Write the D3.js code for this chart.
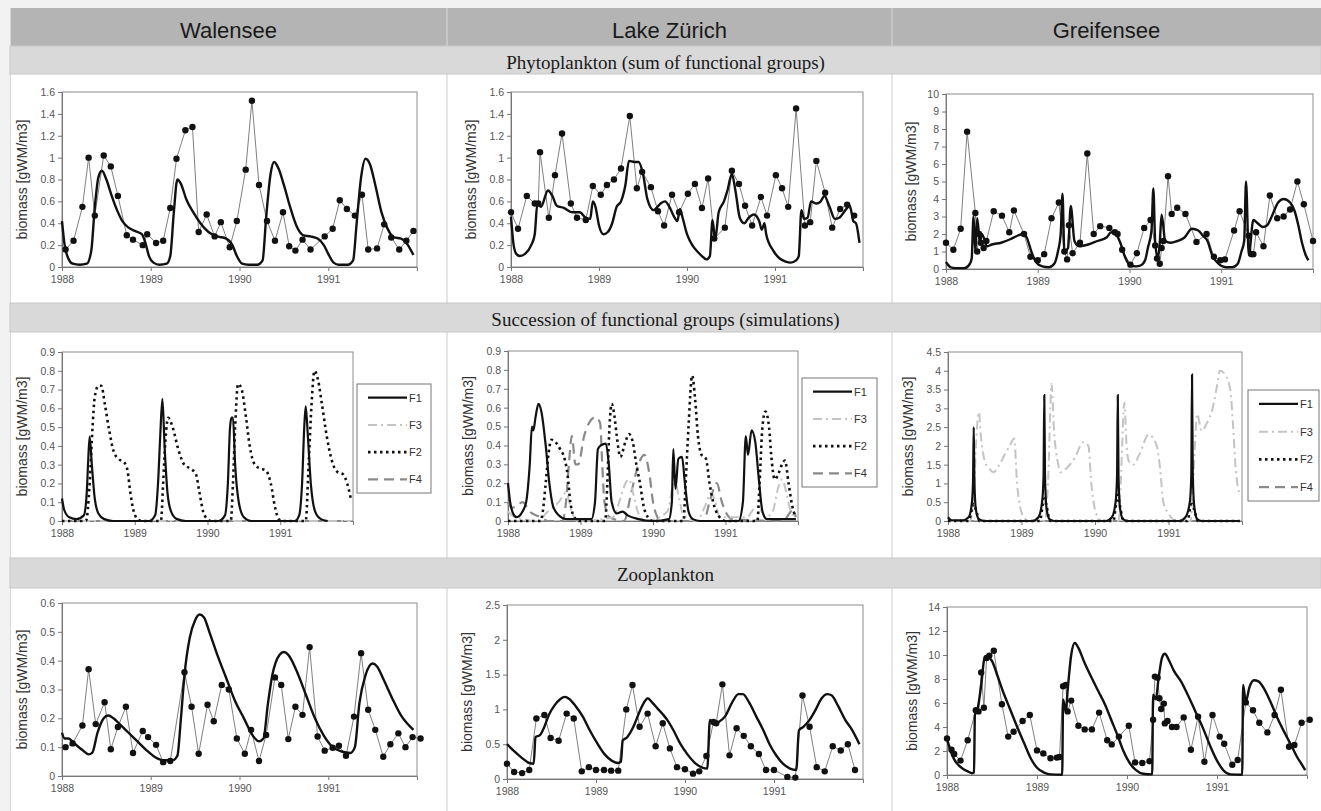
<!DOCTYPE html>
<html>
<head>
<meta charset="utf-8">
<script src="https://cdn.jsdelivr.net/npm/d3@7"></script>
<style>
  body { margin: 0; background: #f2f2f2; }
  .tick text { font-family: "Liberation Sans", Arial, sans-serif; font-size: 10.5px; fill: #555; }
  .tick line, .domain { stroke: #777; }
</style>
</head>
<body>
<div id="chart"></div>
<script>
// column and row titles
var lakes = ["Walensee", "Lake Zürich", "Greifensee"];
var sections = ["Phytoplankton (sum of functional groups)", "Succession of functional groups (simulations)", "Zooplankton"];
var yearTicks = [1988, 1989, 1990, 1991];
var groupNames = ["F1", "F3", "F2", "F4"];

// ---- Phytoplankton: observed [year, biomass] and simulated ----
var walPhytoObs = [[1988.04,0.16],[1988.13,0.24],[1988.23,0.55],[1988.30,1.00],[1988.37,0.47],[1988.47,1.02],[1988.55,0.92],[1988.63,0.65],[1988.73,0.29],[1988.80,0.25],[1988.91,0.20],[1988.96,0.30],[1989.06,0.22],[1989.14,0.24],[1989.22,0.54],[1989.29,0.99],[1989.39,1.25],[1989.47,1.28],[1989.54,0.32],[1989.63,0.48],[1989.72,0.28],[1989.79,0.41],[1989.89,0.18],[1989.97,0.42],[1990.07,0.89],[1990.14,1.52],[1990.22,0.75],[1990.31,0.42],[1990.40,0.24],[1990.49,0.50],[1990.56,0.19],[1990.63,0.15],[1990.71,0.25],[1990.80,0.16],[1990.96,0.28],[1991.05,0.35],[1991.13,0.61],[1991.21,0.53],[1991.30,0.47],[1991.38,0.66],[1991.45,0.16],[1991.55,0.17],[1991.63,0.39],[1991.71,0.27],[1991.80,0.16],[1991.88,0.24],[1991.96,0.33]];
var walPhytoSim = [[1988.00,0.42],[1988.03,0.2],[1988.07,0.08],[1988.12,0.03],[1988.2,0.02],[1988.28,0.03],[1988.33,0.15],[1988.37,0.55],[1988.41,0.82],[1988.45,0.88],[1988.5,0.8],[1988.56,0.65],[1988.62,0.52],[1988.68,0.42],[1988.75,0.36],[1988.82,0.33],[1988.9,0.3],[1988.94,0.22],[1988.98,0.1],[1989.03,0.04],[1989.1,0.02],[1989.18,0.03],[1989.22,0.1],[1989.26,0.5],[1989.3,0.8],[1989.34,0.76],[1989.4,0.62],[1989.48,0.5],[1989.56,0.4],[1989.65,0.32],[1989.75,0.28],[1989.85,0.26],[1989.92,0.2],[1989.97,0.1],[1990.03,0.03],[1990.1,0.02],[1990.2,0.02],[1990.26,0.06],[1990.3,0.45],[1990.35,0.85],[1990.39,0.96],[1990.44,0.9],[1990.5,0.75],[1990.57,0.55],[1990.64,0.38],[1990.72,0.29],[1990.8,0.28],[1990.88,0.26],[1990.95,0.2],[1991.0,0.12],[1991.06,0.04],[1991.12,0.02],[1991.22,0.02],[1991.28,0.06],[1991.32,0.4],[1991.37,0.82],[1991.42,0.99],[1991.47,0.94],[1991.53,0.75],[1991.6,0.5],[1991.67,0.35],[1991.74,0.27],[1991.82,0.26],[1991.88,0.22],[1991.96,0.11]];

var zurPhytoObs = [[1988.0,0.5],[1988.08,0.35],[1988.18,0.65],[1988.27,0.58],[1988.31,0.58],[1988.33,1.05],[1988.43,0.45],[1988.5,0.84],[1988.58,1.22],[1988.68,0.58],[1988.75,0.45],[1988.85,0.43],[1988.93,0.74],[1989.02,0.66],[1989.09,0.75],[1989.17,0.80],[1989.25,0.90],[1989.35,1.38],[1989.43,0.72],[1989.49,0.87],[1989.59,0.73],[1989.67,0.51],[1989.74,0.38],[1989.83,0.66],[1989.91,0.50],[1990.01,0.67],[1990.09,0.76],[1990.17,0.54],[1990.24,0.81],[1990.31,0.26],[1990.43,0.36],[1990.51,0.88],[1990.59,0.76],[1990.66,0.56],[1990.74,0.38],[1990.84,0.64],[1990.91,0.47],[1991.01,0.84],[1991.08,0.72],[1991.15,0.55],[1991.24,1.45],[1991.34,0.38],[1991.40,0.41],[1991.47,0.97],[1991.57,0.68],[1991.65,0.36],[1991.74,0.53],[1991.82,0.57],[1991.9,0.47]];
var zurPhytoSim = [[1988.0,0.46],[1988.03,0.2],[1988.06,0.12],[1988.1,0.1],[1988.16,0.12],[1988.23,0.2],[1988.27,0.3],[1988.3,0.58],[1988.34,0.55],[1988.42,0.7],[1988.47,0.65],[1988.52,0.56],[1988.6,0.54],[1988.7,0.5],[1988.78,0.5],[1988.85,0.45],[1988.9,0.44],[1988.93,0.6],[1988.96,0.55],[1989.0,0.38],[1989.05,0.3],[1989.1,0.32],[1989.15,0.4],[1989.2,0.55],[1989.25,0.6],[1989.3,0.75],[1989.34,0.97],[1989.4,0.96],[1989.45,0.96],[1989.5,0.85],[1989.55,0.62],[1989.62,0.52],[1989.7,0.58],[1989.75,0.6],[1989.8,0.55],[1989.86,0.45],[1989.89,0.42],[1989.92,0.53],[1989.95,0.45],[1990.0,0.3],[1990.06,0.2],[1990.12,0.14],[1990.17,0.1],[1990.22,0.07],[1990.26,0.1],[1990.29,0.43],[1990.32,0.25],[1990.36,0.5],[1990.42,0.6],[1990.46,0.7],[1990.51,0.85],[1990.55,0.7],[1990.6,0.45],[1990.65,0.4],[1990.7,0.45],[1990.76,0.48],[1990.82,0.42],[1990.85,0.34],[1990.88,0.4],[1990.9,0.3],[1990.98,0.15],[1991.05,0.08],[1991.12,0.05],[1991.18,0.04],[1991.24,0.06],[1991.27,0.1],[1991.3,0.52],[1991.33,0.44],[1991.37,0.45],[1991.41,0.6],[1991.47,0.58],[1991.52,0.6],[1991.56,0.65],[1991.62,0.55],[1991.68,0.44],[1991.73,0.45],[1991.8,0.52],[1991.85,0.56],[1991.89,0.42],[1991.92,0.4],[1991.96,0.22]];

var grePhytoObs = [[1988.0,1.5],[1988.08,1.1],[1988.16,2.3],[1988.23,7.85],[1988.32,3.2],[1988.34,1.0],[1988.36,2.0],[1988.38,1.5],[1988.41,1.2],[1988.44,1.6],[1988.52,3.3],[1988.61,3.05],[1988.69,2.1],[1988.74,3.35],[1988.85,2.0],[1988.92,0.7],[1989.0,0.5],[1989.07,0.85],[1989.15,2.9],[1989.23,3.8],[1989.29,1.0],[1989.32,0.55],[1989.34,2.5],[1989.38,0.9],[1989.46,1.5],[1989.54,6.6],[1989.61,2.0],[1989.68,2.45],[1989.78,2.35],[1989.84,2.1],[1989.87,2.0],[1989.92,1.1],[1990.01,0.25],[1990.08,0.9],[1990.16,2.35],[1990.23,2.8],[1990.28,1.35],[1990.3,0.6],[1990.33,0.3],[1990.35,1.2],[1990.37,1.6],[1990.42,5.3],[1990.46,3.15],[1990.52,3.5],[1990.61,3.15],[1990.73,1.55],[1990.84,2.0],[1990.92,0.7],[1990.99,0.5],[1991.04,0.55],[1991.14,2.2],[1991.2,3.3],[1991.3,1.9],[1991.33,0.85],[1991.35,0.85],[1991.38,2.1],[1991.46,1.3],[1991.53,4.2],[1991.61,2.9],[1991.68,3.0],[1991.75,3.4],[1991.83,5.0],[1991.9,3.7],[1992.0,1.6]];
var grePhytoSim = [[1988.0,0.4],[1988.05,0.1],[1988.1,0.05],[1988.2,0.05],[1988.26,0.3],[1988.28,0.6],[1988.3,3.0],[1988.32,1.0],[1988.34,2.9],[1988.37,1.5],[1988.39,2.0],[1988.45,1.3],[1988.5,1.4],[1988.6,1.5],[1988.7,1.7],[1988.78,1.9],[1988.84,2.0],[1988.88,1.8],[1988.93,1.0],[1988.98,0.4],[1989.05,0.15],[1989.12,0.1],[1989.18,0.3],[1989.22,1.0],[1989.25,2.0],[1989.27,4.3],[1989.29,1.0],[1989.33,1.2],[1989.36,3.6],[1989.4,1.6],[1989.45,1.3],[1989.55,1.4],[1989.65,1.6],[1989.75,1.8],[1989.8,2.1],[1989.85,2.0],[1989.9,1.5],[1989.95,0.7],[1990.0,0.25],[1990.07,0.15],[1990.12,0.2],[1990.17,0.5],[1990.2,1.2],[1990.24,2.2],[1990.26,4.6],[1990.28,1.5],[1990.31,0.6],[1990.33,1.5],[1990.35,3.1],[1990.39,1.6],[1990.45,1.5],[1990.52,1.6],[1990.6,1.8],[1990.68,2.3],[1990.75,2.2],[1990.8,1.9],[1990.85,1.6],[1990.9,0.8],[1990.97,0.3],[1991.05,0.1],[1991.12,0.1],[1991.18,0.3],[1991.22,1.0],[1991.25,1.6],[1991.27,5.0],[1991.3,0.8],[1991.35,2.8],[1991.4,2.6],[1991.45,2.4],[1991.5,2.5],[1991.55,3.0],[1991.62,3.8],[1991.68,4.0],[1991.75,3.8],[1991.8,3.3],[1991.84,2.5],[1991.88,1.5],[1991.92,0.8],[1991.95,0.5]];

// ---- Succession of functional groups (simulated), one array per group ----
var walF1 = [[1988.0,0.12],[1988.03,0.06],[1988.1,0.02],[1988.2,0.01],[1988.3,0.03],[1988.34,0.15],[1988.36,0.32],[1988.38,0.45],[1988.41,0.3],[1988.45,0.12],[1988.5,0.04],[1988.58,0.01],[1988.7,0],[1989.2,0],[1989.28,0.03],[1989.32,0.2],[1989.35,0.45],[1989.38,0.65],[1989.41,0.4],[1989.45,0.15],[1989.5,0.05],[1989.58,0.01],[1989.7,0],[1990.15,0],[1990.24,0.03],[1990.28,0.2],[1990.31,0.5],[1990.33,0.55],[1990.35,0.55],[1990.38,0.3],[1990.43,0.1],[1990.5,0.02],[1990.6,0],[1991.2,0],[1991.26,0.03],[1991.3,0.2],[1991.33,0.5],[1991.35,0.61],[1991.38,0.45],[1991.42,0.2],[1991.48,0.05],[1991.56,0.01],[1991.65,0]];
var walF3 = [[1988.0,0],[1991.97,0]];
var walF2 = [[1988.0,0],[1988.33,0],[1988.38,0.2],[1988.42,0.5],[1988.45,0.66],[1988.5,0.72],[1988.54,0.72],[1988.59,0.62],[1988.65,0.48],[1988.71,0.37],[1988.78,0.33],[1988.86,0.31],[1988.9,0.27],[1988.94,0.15],[1988.98,0.06],[1989.04,0.01],[1989.1,0],[1989.36,0],[1989.39,0.2],[1989.42,0.42],[1989.46,0.55],[1989.52,0.5],[1989.6,0.38],[1989.68,0.3],[1989.76,0.28],[1989.84,0.25],[1989.89,0.15],[1989.94,0.05],[1990.0,0.01],[1990.05,0],[1990.32,0],[1990.35,0.2],[1990.38,0.5],[1990.42,0.73],[1990.47,0.7],[1990.53,0.55],[1990.58,0.4],[1990.65,0.3],[1990.72,0.28],[1990.8,0.27],[1990.87,0.2],[1990.93,0.07],[1990.98,0.01],[1991.03,0],[1991.35,0],[1991.39,0.3],[1991.43,0.62],[1991.47,0.8],[1991.52,0.75],[1991.57,0.63],[1991.64,0.45],[1991.71,0.32],[1991.79,0.26],[1991.86,0.25],[1991.92,0.2],[1991.97,0.12]];
var walF4 = [[1988.0,0],[1991.97,0]];

var zurF1 = [[1988.0,0.2],[1988.03,0.1],[1988.07,0.04],[1988.12,0.02],[1988.2,0.05],[1988.25,0.1],[1988.3,0.3],[1988.33,0.5],[1988.35,0.48],[1988.38,0.55],[1988.42,0.62],[1988.46,0.58],[1988.52,0.4],[1988.57,0.2],[1988.62,0.08],[1988.7,0.03],[1988.8,0.01],[1989.15,0.01],[1989.2,0.1],[1989.24,0.38],[1989.28,0.4],[1989.35,0.41],[1989.39,0.3],[1989.43,0.1],[1989.5,0.04],[1989.58,0.05],[1989.65,0.03],[1989.8,0.01],[1990.0,0],[1990.22,0.01],[1990.26,0.1],[1990.28,0.38],[1990.31,0.17],[1990.35,0.33],[1990.4,0.34],[1990.44,0.2],[1990.49,0.05],[1990.55,0.01],[1990.65,0],[1991.18,0],[1991.24,0.1],[1991.28,0.45],[1991.31,0.35],[1991.36,0.48],[1991.41,0.42],[1991.46,0.22],[1991.51,0.05],[1991.57,0.01],[1991.97,0.01]];
var zurF3 = [[1988.0,0.05],[1988.1,0.02],[1988.4,0],[1988.55,0.05],[1988.7,0.1],[1988.8,0.15],[1988.88,0.05],[1988.95,0],[1989.45,0.02],[1989.55,0.12],[1989.62,0.2],[1989.67,0.22],[1989.73,0.14],[1989.8,0.04],[1989.9,0],[1990.2,0.05],[1990.27,0.18],[1990.31,0.2],[1990.36,0.12],[1990.42,0.03],[1990.6,0],[1990.72,0.08],[1990.8,0.15],[1990.86,0.1],[1990.92,0.02],[1991.3,0.02],[1991.38,0.06],[1991.45,0.08],[1991.55,0.02],[1991.65,0.05],[1991.73,0.18],[1991.78,0.22],[1991.84,0.15],[1991.9,0.05],[1991.97,0.02]];
var zurF2 = [[1988.0,0],[1988.45,0],[1988.48,0.05],[1988.52,0.2],[1988.56,0.36],[1988.6,0.43],[1988.65,0.42],[1988.72,0.38],[1988.78,0.33],[1988.82,0.25],[1988.86,0.1],[1988.9,0.03],[1988.98,0],[1989.34,0],[1989.37,0.2],[1989.4,0.5],[1989.43,0.62],[1989.47,0.55],[1989.5,0.45],[1989.55,0.34],[1989.62,0.42],[1989.67,0.46],[1989.72,0.42],[1989.77,0.3],[1989.82,0.2],[1989.87,0.08],[1989.93,0.02],[1990.0,0],[1990.42,0],[1990.45,0.2],[1990.49,0.5],[1990.54,0.77],[1990.58,0.65],[1990.62,0.45],[1990.67,0.35],[1990.73,0.33],[1990.78,0.2],[1990.83,0.1],[1990.9,0.03],[1991.0,0],[1991.44,0],[1991.47,0.2],[1991.51,0.5],[1991.55,0.58],[1991.6,0.5],[1991.63,0.35],[1991.68,0.22],[1991.73,0.25],[1991.78,0.3],[1991.82,0.32],[1991.87,0.2],[1991.92,0.08],[1991.97,0.02]];
var zurF4 = [[1988.0,0.1],[1988.05,0.07],[1988.12,0.08],[1988.2,0.1],[1988.3,0.05],[1988.45,0.02],[1988.55,0],[1988.75,0],[1988.8,0.1],[1988.84,0.3],[1988.88,0.45],[1988.93,0.3],[1988.97,0.3],[1989.05,0.45],[1989.12,0.52],[1989.2,0.55],[1989.27,0.52],[1989.3,0.3],[1989.33,0.1],[1989.4,0.02],[1989.6,0],[1989.7,0.15],[1989.8,0.3],[1989.88,0.35],[1989.95,0.25],[1990.0,0.1],[1990.05,0.03],[1990.1,0],[1990.7,0],[1990.78,0.1],[1990.88,0.2],[1990.95,0.1],[1991.0,0.05],[1991.1,0.01],[1991.8,0],[1991.88,0.04],[1991.93,0.06],[1991.97,0.02]];

var greF1 = [[1988.0,0.1],[1988.05,0.02],[1988.2,0.02],[1988.28,0.1],[1988.32,0.4],[1988.34,1.0],[1988.35,2.5],[1988.36,1.0],[1988.38,0.3],[1988.42,0.05],[1988.5,0],[1989.15,0],[1989.23,0.1],[1989.28,0.5],[1989.3,1.2],[1989.31,3.35],[1989.32,1.2],[1989.34,0.35],[1989.38,0.05],[1989.45,0],[1990.15,0],[1990.23,0.1],[1990.28,0.5],[1990.3,1.2],[1990.31,3.35],[1990.32,1.2],[1990.34,0.35],[1990.38,0.05],[1990.45,0],[1991.15,0],[1991.23,0.1],[1991.29,0.5],[1991.31,1.2],[1991.32,3.9],[1991.33,1.3],[1991.35,0.4],[1991.39,0.05],[1991.45,0],[1991.97,0]];
var greF3 = [[1988.0,0],[1988.3,0],[1988.35,0.6],[1988.38,2.0],[1988.42,2.9],[1988.45,2.2],[1988.5,1.6],[1988.56,1.4],[1988.62,1.3],[1988.7,1.5],[1988.78,1.8],[1988.84,2.0],[1988.9,2.2],[1988.94,1.0],[1988.99,0.3],[1989.05,0.05],[1989.1,0],[1989.32,0],[1989.36,1.0],[1989.41,3.65],[1989.44,2.5],[1989.5,1.5],[1989.53,1.3],[1989.61,1.4],[1989.73,1.7],[1989.84,2.1],[1989.91,2.0],[1989.95,1.0],[1990.0,0.3],[1990.06,0.05],[1990.1,0],[1990.32,0],[1990.35,1.0],[1990.4,3.15],[1990.43,2.0],[1990.46,1.6],[1990.52,1.5],[1990.61,1.8],[1990.73,2.3],[1990.84,2.0],[1990.88,1.5],[1990.93,0.5],[1991.0,0.2],[1991.07,0.03],[1991.3,0],[1991.34,1.2],[1991.39,2.85],[1991.45,2.4],[1991.52,2.6],[1991.6,3.0],[1991.66,3.6],[1991.7,4.0],[1991.77,3.9],[1991.84,3.5],[1991.88,2.5],[1991.91,1.5],[1991.97,0.7]];
var greF2 = [[1988.0,0],[1988.28,0],[1988.33,0.35],[1988.35,0.45],[1988.38,0.3],[1988.43,0],[1989.25,0],[1989.29,0.45],[1989.31,0.6],[1989.34,0.4],[1989.39,0],[1990.25,0],[1990.29,0.5],[1990.31,0.7],[1990.34,0.4],[1990.39,0],[1991.26,0],[1991.3,0.4],[1991.32,0.45],[1991.35,0.3],[1991.4,0],[1991.97,0]];
var greF4 = [[1988.0,0],[1991.97,0]];

// ---- Zooplankton: observed and simulated ----
var walZooObs = [[1988.04,0.10],[1988.12,0.113],[1988.23,0.175],[1988.3,0.37],[1988.38,0.18],[1988.48,0.256],[1988.55,0.093],[1988.63,0.17],[1988.72,0.24],[1988.8,0.08],[1988.91,0.156],[1988.97,0.135],[1989.06,0.108],[1989.14,0.048],[1989.22,0.052],[1989.38,0.36],[1989.46,0.24],[1989.54,0.077],[1989.64,0.247],[1989.71,0.19],[1989.8,0.316],[1989.88,0.3],[1989.97,0.13],[1990.06,0.077],[1990.13,0.16],[1990.22,0.052],[1990.3,0.142],[1990.4,0.342],[1990.47,0.316],[1990.55,0.128],[1990.63,0.24],[1990.71,0.212],[1990.79,0.447],[1990.88,0.137],[1990.96,0.088],[1991.05,0.098],[1991.12,0.105],[1991.2,0.07],[1991.29,0.206],[1991.37,0.426],[1991.45,0.23],[1991.53,0.16],[1991.62,0.067],[1991.7,0.11],[1991.79,0.148],[1991.87,0.1],[1991.95,0.135],[1992.04,0.13]];
var walZooSim = [[1988.0,0.15],[1988.03,0.13],[1988.07,0.13],[1988.15,0.11],[1988.23,0.09],[1988.3,0.075],[1988.34,0.08],[1988.4,0.15],[1988.47,0.2],[1988.52,0.21],[1988.58,0.2],[1988.65,0.18],[1988.75,0.15],[1988.85,0.12],[1988.95,0.09],[1989.05,0.065],[1989.13,0.055],[1989.25,0.055],[1989.3,0.07],[1989.34,0.2],[1989.38,0.35],[1989.44,0.48],[1989.5,0.54],[1989.55,0.56],[1989.6,0.55],[1989.66,0.5],[1989.75,0.42],[1989.85,0.34],[1989.95,0.26],[1990.05,0.2],[1990.15,0.14],[1990.22,0.12],[1990.27,0.13],[1990.32,0.25],[1990.37,0.35],[1990.45,0.42],[1990.5,0.43],[1990.55,0.42],[1990.65,0.36],[1990.75,0.28],[1990.85,0.2],[1990.95,0.14],[1991.05,0.1],[1991.15,0.085],[1991.25,0.08],[1991.3,0.1],[1991.35,0.25],[1991.42,0.35],[1991.5,0.39],[1991.55,0.38],[1991.63,0.33],[1991.72,0.27],[1991.82,0.21],[1991.96,0.16]];

var zurZooObs = [[1988.0,0.22],[1988.08,0.1],[1988.17,0.085],[1988.25,0.13],[1988.33,0.87],[1988.42,0.92],[1988.49,0.59],[1988.58,0.55],[1988.67,0.94],[1988.75,0.87],[1988.84,0.11],[1988.92,0.17],[1989.0,0.13],[1989.09,0.13],[1989.17,0.12],[1989.25,0.12],[1989.34,1.0],[1989.41,1.35],[1989.49,0.75],[1989.58,0.94],[1989.67,0.47],[1989.75,0.8],[1989.83,0.44],[1989.91,0.17],[1990.0,0.14],[1990.09,0.077],[1990.16,0.11],[1990.24,0.33],[1990.32,0.82],[1990.35,0.8],[1990.42,1.36],[1990.5,0.34],[1990.58,0.73],[1990.66,0.62],[1990.74,0.47],[1990.83,0.36],[1990.91,0.13],[1991.0,0.13],[1991.15,0.03],[1991.24,0.02],[1991.32,1.2],[1991.4,0.75],[1991.48,0.17],[1991.57,0.11],[1991.66,0.47],[1991.75,0.41],[1991.83,0.5],[1991.91,0.13]];
var zurZooSim = [[1988.0,0.5],[1988.08,0.4],[1988.17,0.3],[1988.25,0.23],[1988.3,0.22],[1988.32,0.6],[1988.37,0.63],[1988.42,0.75],[1988.47,0.92],[1988.53,1.05],[1988.6,1.15],[1988.65,1.18],[1988.7,1.15],[1988.77,1.05],[1988.85,0.9],[1988.93,0.7],[1989.02,0.5],[1989.1,0.35],[1989.18,0.26],[1989.25,0.23],[1989.28,0.25],[1989.3,0.55],[1989.35,0.6],[1989.42,0.75],[1989.5,1.0],[1989.55,1.12],[1989.58,1.16],[1989.63,1.1],[1989.7,1.0],[1989.75,0.93],[1989.8,0.85],[1989.87,0.7],[1989.95,0.5],[1990.03,0.35],[1990.12,0.22],[1990.2,0.16],[1990.25,0.15],[1990.28,0.85],[1990.33,0.78],[1990.38,0.82],[1990.45,0.9],[1990.53,1.1],[1990.6,1.22],[1990.65,1.22],[1990.72,1.1],[1990.8,0.9],[1990.88,0.7],[1990.95,0.5],[1991.03,0.33],[1991.1,0.22],[1991.18,0.15],[1991.25,0.13],[1991.28,0.7],[1991.33,0.75],[1991.4,0.85],[1991.47,1.0],[1991.53,1.15],[1991.6,1.22],[1991.65,1.2],[1991.72,1.05],[1991.8,0.85],[1991.87,0.72],[1991.96,0.5]];

var greZooObs = [[1988.0,3.05],[1988.05,2.1],[1988.08,1.75],[1988.15,1.2],[1988.23,2.9],[1988.32,5.4],[1988.35,5.3],[1988.38,8.55],[1988.41,5.6],[1988.44,9.75],[1988.47,9.95],[1988.52,10.35],[1988.61,5.9],[1988.68,3.2],[1988.74,3.6],[1988.84,4.5],[1988.92,5.0],[1989.0,2.05],[1989.07,1.8],[1989.15,1.4],[1989.22,1.45],[1989.25,1.5],[1989.29,7.4],[1989.32,7.5],[1989.34,5.3],[1989.38,6.2],[1989.46,4.1],[1989.53,3.8],[1989.61,3.8],[1989.69,5.2],[1989.78,2.9],[1989.83,2.55],[1989.91,3.2],[1990.02,4.1],[1990.09,1.05],[1990.17,1.0],[1990.25,1.15],[1990.29,4.6],[1990.31,8.2],[1990.34,8.1],[1990.36,6.4],[1990.38,5.5],[1990.41,5.95],[1990.42,4.3],[1990.45,4.5],[1990.5,4.0],[1990.55,4.0],[1990.63,4.8],[1990.71,2.1],[1990.79,4.85],[1990.86,1.1],[1990.95,5.0],[1991.03,3.2],[1991.08,2.6],[1991.17,0.85],[1991.23,1.25],[1991.32,6.05],[1991.4,5.4],[1991.47,4.35],[1991.56,3.55],[1991.64,5.0],[1991.71,7.1],[1991.8,2.35],[1991.86,2.5],[1991.94,4.35],[1992.03,4.6]];
var greZooSim = [[1988.0,3.0],[1988.04,2.0],[1988.08,1.3],[1988.13,0.8],[1988.18,0.5],[1988.23,0.3],[1988.28,0.15],[1988.3,0.2],[1988.31,5.0],[1988.34,5.5],[1988.38,7.5],[1988.42,9.8],[1988.45,9.8],[1988.5,9.5],[1988.55,8.5],[1988.62,7.0],[1988.7,5.5],[1988.78,4.0],[1988.86,2.6],[1988.93,1.4],[1989.0,0.6],[1989.08,0.2],[1989.15,0.05],[1989.28,0.02],[1989.29,6.3],[1989.32,5.3],[1989.34,7.0],[1989.38,10.0],[1989.42,11.0],[1989.46,10.6],[1989.52,9.5],[1989.6,8.2],[1989.68,7.0],[1989.76,5.8],[1989.83,4.5],[1989.9,3.2],[1989.96,2.0],[1990.03,1.0],[1990.1,0.4],[1990.18,0.1],[1990.28,0.05],[1990.29,6.7],[1990.32,6.3],[1990.35,8.0],[1990.39,9.8],[1990.42,10.1],[1990.47,9.5],[1990.52,8.7],[1990.6,7.8],[1990.68,6.6],[1990.76,5.3],[1990.85,3.8],[1990.92,2.5],[1991.0,1.2],[1991.07,0.4],[1991.15,0.05],[1991.28,0.02],[1991.29,7.5],[1991.32,6.1],[1991.36,7.3],[1991.41,7.9],[1991.46,7.8],[1991.53,7.1],[1991.6,6.0],[1991.68,4.6],[1991.76,3.4],[1991.83,2.4],[1991.89,1.5],[1991.94,0.9],[1991.98,0.4]];

// ---- layout ----
var svgWidth = 1321;
var svgHeight = 811;
var colEdges = [10, 447, 892, 1321];
var rowBands = [[46, 74], [303, 332], [558, 588]];
var rowCells = [[74, 303], [332, 558], [588, 811]];

// plot boxes [left, top, right, bottom] per panel, with y scale settings
var panels = [
  {row: 0, col: 0, box: [62, 92, 417, 267], yMax: 1.6, yStep: 0.2, obs: walPhytoObs, sim: walPhytoSim},
  {row: 0, col: 1, box: [511, 92, 863, 267], yMax: 1.6, yStep: 0.2, obs: zurPhytoObs, sim: zurPhytoSim},
  {row: 0, col: 2, box: [946, 94, 1313, 269], yMax: 10, yStep: 1, obs: grePhytoObs, sim: grePhytoSim},
  {row: 1, col: 0, box: [62, 352, 353, 521], yMax: 0.9, yStep: 0.1, groups: [walF1, walF3, walF2, walF4], legend: [357, 384, 431, 493]},
  {row: 1, col: 1, box: [508, 351, 798, 521], yMax: 0.9, yStep: 0.1, groups: [zurF1, zurF3, zurF2, zurF4], legend: [802, 378, 877, 487]},
  {row: 1, col: 2, box: [948, 352, 1242, 521], yMax: 4.5, yStep: 0.5, groups: [greF1, greF3, greF2, greF4], legend: [1248, 390, 1319, 501]},
  {row: 2, col: 0, box: [62, 603, 417, 776], yMax: 0.6, yStep: 0.1, obs: walZooObs, sim: walZooSim},
  {row: 2, col: 1, box: [507, 605, 863, 779], yMax: 2.5, yStep: 0.5, obs: zurZooObs, sim: zurZooSim},
  {row: 2, col: 2, box: [947, 607, 1307, 775], yMax: 14, yStep: 2, obs: greZooObs, sim: greZooSim}
];

// line styles for F1, F3, F2, F4
var groupStyles = [
  {stroke: "#111", width: 2.2, dash: null},
  {stroke: "#c4c4c4", width: 2, dash: "9,4,2,4"},
  {stroke: "#111", width: 2.6, dash: "2.5,3.5"},
  {stroke: "#8a8a8a", width: 2.2, dash: "10,6"}
];

var svg = d3.select("#chart")
  .append("svg")
  .attr("width", svgWidth)
  .attr("height", svgHeight);

svg.append("rect").attr("width", svgWidth).attr("height", svgHeight).attr("fill", "#f2f2f2");

// header row with lake names
svg.append("rect")
  .attr("x", colEdges[0]).attr("y", 8)
  .attr("width", colEdges[3] - colEdges[0]).attr("height", 38)
  .attr("fill", "#b4b4b4");

lakes.forEach(function(name, i) {
  svg.append("text")
    .attr("x", (colEdges[i] + colEdges[i + 1]) / 2)
    .attr("y", 38)
    .attr("text-anchor", "middle")
    .attr("font-family", "Liberation Sans, Arial, sans-serif")
    .attr("font-size", 22)
    .attr("fill", "#1a1a1a")
    .text(name);
});

// white cells
rowCells.forEach(function(r) {
  svg.append("rect")
    .attr("x", colEdges[0]).attr("y", r[0])
    .attr("width", colEdges[3] - colEdges[0]).attr("height", r[1] - r[0])
    .attr("fill", "#ffffff");
});

// column dividers
[1, 2].forEach(function(i) {
  svg.append("line")
    .attr("x1", colEdges[i]).attr("x2", colEdges[i])
    .attr("y1", 8).attr("y2", svgHeight)
    .attr("stroke", "#d4d4d4").attr("stroke-width", 1.2);
});
svg.append("line")
  .attr("x1", colEdges[0] + 0.5).attr("x2", colEdges[0] + 0.5)
  .attr("y1", 8).attr("y2", svgHeight)
  .attr("stroke", "#d8d8d8");

// section bands
rowBands.forEach(function(b, i) {
  svg.append("rect")
    .attr("x", colEdges[0]).attr("y", b[0])
    .attr("width", colEdges[3] - colEdges[0]).attr("height", b[1] - b[0])
    .attr("fill", "#d9d9d9")
    .attr("stroke", "#c8c8c8");
  svg.append("text")
    .attr("x", (colEdges[0] + colEdges[3]) / 2)
    .attr("y", b[0] + 23)
    .attr("text-anchor", "middle")
    .attr("font-family", "Liberation Serif, Times New Roman, serif")
    .attr("font-size", 19)
    .attr("fill", "#1a1a1a")
    .text(sections[i]);
});

// draw each panel
panels.forEach(function(p) {
  var l = p.box[0], t = p.box[1], r = p.box[2], b = p.box[3];
  var x = d3.scaleLinear().domain([1988, 1992]).range([l, r]);
  var y = d3.scaleLinear().domain([0, p.yMax]).range([b, t]);
  var yTicks = d3.range(0, p.yMax + p.yStep / 2, p.yStep).map(function(v) { return +v.toFixed(2); });

  var g = svg.append("g");

  g.append("rect")
    .attr("x", l).attr("y", t)
    .attr("width", r - l).attr("height", b - t)
    .attr("fill", "none")
    .attr("stroke", "#8c8c8c");

  g.append("g")
    .attr("transform", "translate(" + l + ",0)")
    .call(d3.axisLeft(y).tickValues(yTicks).tickSize(4).tickPadding(3).tickFormat(function(d) { return String(d); }));

  g.append("g")
    .attr("transform", "translate(0," + b + ")")
    .call(d3.axisBottom(x).tickValues(yearTicks).tickSize(4).tickPadding(5).tickFormat(d3.format("d")));

  g.selectAll(".domain").attr("stroke", "#777");

  g.append("text")
    .attr("transform", "rotate(-90)")
    .attr("x", -(t + b) / 2)
    .attr("y", l - (p.yMax >= 10 ? 30 : 35))
    .attr("text-anchor", "middle")
    .attr("font-family", "Liberation Sans, Arial, sans-serif")
    .attr("font-size", 14)
    .attr("fill", "#333")
    .text("biomass [gWM/m3]");

  var line = d3.line().x(function(d) { return x(d[0]); }).y(function(d) { return y(d[1]); });

  if (p.groups) {
    // draw F4, F3 first, then F2 and F1 on top
    [3, 1, 2, 0].forEach(function(k) {
      var s = groupStyles[k];
      g.append("path")
        .datum(p.groups[k])
        .attr("d", line.curve(d3.curveMonotoneX))
        .attr("fill", "none")
        .attr("stroke", s.stroke)
        .attr("stroke-width", s.width)
        .attr("stroke-dasharray", s.dash);
    });

    var lg = p.legend;
    g.append("rect")
      .attr("x", lg[0]).attr("y", lg[1])
      .attr("width", lg[2] - lg[0]).attr("height", lg[3] - lg[1])
      .attr("fill", "#fff").attr("stroke", "#777");
    var step = (lg[3] - lg[1]) / 4;
    groupNames.forEach(function(name, k) {
      var s = groupStyles[k];
      var yy = lg[1] + step * (k + 0.5);
      g.append("line")
        .attr("x1", lg[0] + 11).attr("x2", lg[0] + 50)
        .attr("y1", yy).attr("y2", yy)
        .attr("stroke", s.stroke)
        .attr("stroke-width", s.width)
        .attr("stroke-dasharray", s.dash);
      g.append("text")
        .attr("x", lg[0] + 52).attr("y", yy + 4)
        .attr("font-family", "Liberation Sans, Arial, sans-serif")
        .attr("font-size", 11)
        .attr("fill", "#333")
        .text(name);
    });
  } else {
    g.append("path")
      .datum(p.obs)
      .attr("d", line.curve(d3.curveLinear))
      .attr("fill", "none")
      .attr("stroke", "#808080")
      .attr("stroke-width", 1);

    g.append("path")
      .datum(p.sim)
      .attr("d", line.curve(d3.curveMonotoneX))
      .attr("fill", "none")
      .attr("stroke", "#111")
      .attr("stroke-width", 2.4);

    g.selectAll(".obs")
      .data(p.obs)
      .enter()
      .append("circle")
      .attr("cx", function(d) { return x(d[0]); })
      .attr("cy", function(d) { return y(d[1]); })
      .attr("r", 3.2)
      .attr("fill", "#111");
  }
});
</script>
</body>
</html>
